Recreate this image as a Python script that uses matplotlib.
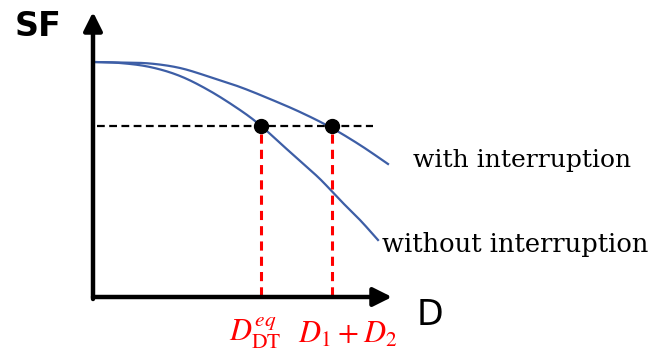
import numpy as np
import matplotlib.pyplot as plt

# -------------------------------
# Schematic data (canvas coordinates, y grows downward)
# -------------------------------
with_x = [93, 120, 150, 180, 210, 240, 270, 300, 330, 360, 388]
with_y = [62, 62.5, 63.5, 68, 77, 87, 99, 112, 127, 145, 164]

without_x = [93, 120, 150, 180, 210, 240, 260, 280, 300, 320, 340, 360, 378]
without_y = [62, 63, 67, 76, 91, 110, 125, 143, 161, 179, 200, 220, 240]

sf_level = 126
d_dt_eq = 261
d_sum = 332


def smooth(xs, ys, n=20):
    # Catmull-Rom pass through the read points, just for drawing
    p = np.column_stack([xs, ys]).astype(float)
    p = np.vstack([p[0], p, p[-1]])
    out = []
    t = np.linspace(0, 1, n, endpoint=False)[:, None]
    for i in range(1, len(p) - 2):
        p0, p1, p2, p3 = p[i - 1], p[i], p[i + 1], p[i + 2]
        seg = 0.5 * (2 * p1 + (-p0 + p2) * t
                     + (2 * p0 - 5 * p1 + 4 * p2 - p3) * t ** 2
                     + (-p0 + 3 * p1 - 3 * p2 + p3) * t ** 3)
        out.append(seg)
    out.append(p[-2][None, :])
    out = np.vstack(out)
    return out[:, 0], out[:, 1]


plt.rcParams["mathtext.fontset"] = "stix"

fig = plt.figure(figsize=(6.65, 3.54), dpi=100)
ax = fig.add_axes([0, 0, 1, 1])
ax.set_xlim(0, 665)
ax.set_ylim(354, 0)
ax.axis("off")

blue = "#3d5ea6"

# Axes arrows
ax.annotate("", xy=(93, 12), xytext=(93, 299),
            arrowprops=dict(arrowstyle="-|>", lw=3.2, color="black",
                            mutation_scale=28, shrinkA=0, shrinkB=0))
ax.annotate("", xy=(392, 297), xytext=(93, 297),
            arrowprops=dict(arrowstyle="-|>", lw=3.2, color="black",
                            mutation_scale=28, shrinkA=0, shrinkB=0))

ax.text(38, 27, "SF", fontsize=24, fontweight="bold", ha="center", va="center",
        family="DejaVu Sans")
ax.text(430, 315, "D", fontsize=25, ha="center", va="center", family="DejaVu Sans")

# Curves
ax.plot(*smooth(with_x, with_y), color=blue, lw=1.6)
ax.plot(*smooth(without_x, without_y), color=blue, lw=1.6)

# Threshold line
ax.plot([97, 373], [sf_level, sf_level], color="black", lw=1.6, ls=(0, (3.5, 2)))

# Drop lines
ax.plot([d_dt_eq, d_dt_eq], [sf_level + 8, 295], color="red", lw=2.2, ls=(0, (3, 2)))
ax.plot([d_sum, d_sum], [sf_level + 8, 295], color="red", lw=2.2, ls=(0, (3, 2)))

ax.plot([d_dt_eq, d_sum], [sf_level, sf_level], "o", color="black", ms=10)

ax.text(d_dt_eq - 6, 333, r"$D_{\mathrm{DT}}^{eq}$", color="red", fontsize=22,
        ha="center", va="center")
ax.text(348, 334, r"$D_1\:+\:D_2$", color="red", fontsize=22,
        ha="center", va="center")

ax.text(413, 167, "with interruption", fontsize=18, family="DejaVu Serif",
        ha="left", va="baseline")
ax.text(382, 252, "without interruption", fontsize=18.5, family="DejaVu Serif",
        ha="left", va="baseline")

fig.savefig("out.png", dpi=100)
